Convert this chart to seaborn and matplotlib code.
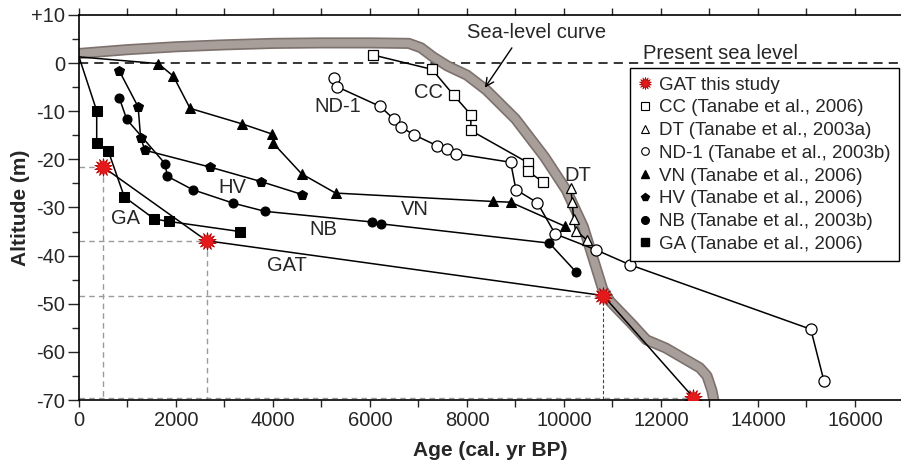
import matplotlib
matplotlib.use('Agg')
import matplotlib.pyplot as plt
import seaborn as sns
from matplotlib.lines import Line2D
from matplotlib.ticker import MultipleLocator

# Sea-level curve (age cal. yr BP, altitude m)
sea_age = [0, 1000, 2000, 3000, 4000, 5000, 6000, 6800, 7050, 7300, 7600, 8000, 8400,
           9000, 9600, 10050, 10400, 10600, 10800, 10950, 11400, 11700, 12100, 12800,
           12950, 13050, 13100]
sea_alt = [2.0, 2.8, 3.4, 3.8, 4.1, 4.2, 4.2, 4.1, 3.2, 1.3, -0.6, -2.5, -5.6,
           -11.6, -19.5, -26.4, -34.0, -40.5, -47.0, -49.5, -54.2, -57.5, -59.2, -63.3,
           -65.0, -68.0, -70.5]

gat_age = [500, 2630, 10810, 12670]
gat_alt = [-21.6, -36.9, -48.3, -69.5]

cc_age = [6060, 7280, 7730, 8080, 8080, 9260, 9260, 9570]
cc_alt = [1.7, -1.3, -6.7, -10.7, -14.0, -20.7, -22.5, -24.7]

dt_age = [10140, 10170, 10200, 10240, 10470]
dt_alt = [-25.9, -28.9, -32.3, -34.8, -36.7]

nd_age = [5260, 5320, 6210, 6500, 6640, 6910, 7390, 7580, 7770, 8900, 9010, 9450,
          9820, 10660, 11360, 15090, 15360]
nd_alt = [-3.0, -4.9, -9.0, -11.7, -13.3, -14.9, -17.2, -17.9, -18.8, -20.6, -26.3,
          -29.0, -35.5, -38.8, -41.9, -55.3, -66.0]

vn_age = [0, 1635, 1945, 2290, 3355, 3970, 4010, 4590, 5290, 8540, 8900, 10020]
vn_alt = [1.3, -0.1, -2.7, -9.4, -12.6, -14.7, -16.7, -23.0, -27.0, -28.75, -28.9, -33.9]

hv_age = [830, 1220, 1270, 1360, 2700, 3750, 4600]
hv_alt = [-1.6, -9.1, -15.5, -18.1, -21.6, -24.6, -27.3]

nb_age = [830, 985, 1775, 1820, 2345, 3180, 3835, 6035, 6230, 9700, 10240]
nb_alt = [-7.2, -11.7, -20.9, -23.5, -26.3, -29.1, -30.8, -33.0, -33.4, -37.4, -43.3]

ga_age = [0, 365, 365, 605, 935, 1555, 1855, 3320]
ga_alt = [1.3, -9.9, -16.6, -18.3, -27.8, -32.4, -32.9, -35.0]

legend_labels = ['GAT this study', 'CC (Tanabe et al., 2006)', 'DT (Tanabe et al., 2003a)',
                 'ND-1 (Tanabe et al., 2003b)', 'VN (Tanabe et al., 2006)',
                 'HV (Tanabe et al., 2006)', 'NB (Tanabe et al., 2003b)',
                 'GA (Tanabe et al., 2006)']

sns.set_style('ticks')
plt.rcParams['font.family'] = ['Liberation Sans', 'DejaVu Sans']
plt.rcParams['axes.unicode_minus'] = False

fig = plt.figure(figsize=(9.01, 4.65), dpi=100)
ax = fig.add_axes([79 / 901, 65 / 465, 822 / 901, 385 / 465])

RED = '#e3191b'

# sea level curve: dark rim + light fill
sns.lineplot(x=sea_age, y=sea_alt, sort=False, estimator=None, color='#7d716d',
             lw=8.0, solid_capstyle='butt', ax=ax, zorder=1)
sns.lineplot(x=sea_age, y=sea_alt, sort=False, estimator=None, color='#a89e9a',
             lw=5.6, solid_capstyle='butt', ax=ax, zorder=1)

# present sea level
ax.axhline(0, color='black', lw=1.1, dashes=(6, 4), zorder=0.5)

# guide lines for GAT samples
for i, (a, h) in enumerate(zip(gat_age, gat_alt)):
    ax.plot([0, a], [h, h], color='#9a9a9a', lw=1.0, dashes=(4, 3), zorder=0.4)
    if i < 2:
        ax.plot([a, a], [h, -70], color='#9a9a9a', lw=1.0, dashes=(4, 3), zorder=0.4)
    elif i == 2:
        ax.plot([a, a], [h, -70], color='#444444', lw=0.8, dashes=(3, 2), zorder=0.4)

common = dict(sort=False, estimator=None, color='black', lw=1.1, ax=ax, legend=False)

sns.lineplot(x=cc_age, y=cc_alt, marker='s', markersize=7.5, markerfacecolor='white',
             markeredgecolor='black', markeredgewidth=0.9, **common)
sns.lineplot(x=dt_age, y=dt_alt, marker='^', markersize=7.5, markerfacecolor='white',
             markeredgecolor='black', markeredgewidth=0.9, **common)
sns.lineplot(x=nd_age, y=nd_alt, marker='o', markersize=8, markerfacecolor='white',
             markeredgecolor='black', markeredgewidth=0.9, **common)
sns.lineplot(x=vn_age, y=vn_alt, marker='^', markersize=6.5, markerfacecolor='black',
             markeredgecolor='black', markevery=list(range(1, len(vn_age))), **common)
sns.lineplot(x=hv_age, y=hv_alt, marker='p', markersize=7, markerfacecolor='black',
             markeredgecolor='black', **common)
sns.lineplot(x=nb_age, y=nb_alt, marker='o', markersize=6.5, markerfacecolor='black',
             markeredgecolor='black', **common)
sns.lineplot(x=ga_age, y=ga_alt, marker='s', markersize=6.5, markerfacecolor='black',
             markeredgecolor='black', markevery=list(range(1, len(ga_age))), **common)
sns.lineplot(x=gat_age, y=gat_alt, marker=(14, 1, 0), markersize=13, markerfacecolor=RED,
             markeredgecolor='#b00000', markeredgewidth=0.6, **common)
ax.plot(gat_age, gat_alt, ls='none', marker='o', ms=7.5, mfc=RED, mec=RED, zorder=5)

# labels
txt = dict(fontsize=14.5, ha='center', va='center')
ax.text(5340, -9.0, 'ND-1', **txt)
ax.text(7200, -6.0, 'CC', **txt)
ax.text(10280, -23.3, 'DT', **txt)
ax.text(3160, -25.8, 'HV', **txt)
ax.text(6930, -30.5, 'VN', **txt)
ax.text(5030, -34.6, 'NB', **txt)
ax.text(950, -32.3, 'GA', **txt)
ax.text(4290, -42.0, 'GAT', **txt)
ax.text(11630, 2.1, 'Present sea level', fontsize=14.5, ha='left', va='center')
ax.annotate('Sea-level curve', xy=(8370, -5.1), xytext=(8000, 6.3), fontsize=14.5,
            ha='left', va='center',
            arrowprops=dict(arrowstyle='->', color='black', lw=1.0,
                            relpos=(0.35, 0.0), shrinkA=2, shrinkB=0))

handles = [
    Line2D([], [], ls='none', marker=(14, 1, 0), ms=9, mfc=RED, mec='#b00000', mew=0.5),
    Line2D([], [], ls='none', marker='s', ms=5.5, mfc='white', mec='black', mew=0.8),
    Line2D([], [], ls='none', marker='^', ms=5.5, mfc='white', mec='black', mew=0.8),
    Line2D([], [], ls='none', marker='o', ms=5.5, mfc='white', mec='black', mew=0.8),
    Line2D([], [], ls='none', marker='^', ms=5.5, mfc='black', mec='black'),
    Line2D([], [], ls='none', marker='p', ms=6, mfc='black', mec='black'),
    Line2D([], [], ls='none', marker='o', ms=5.5, mfc='black', mec='black'),
    Line2D([], [], ls='none', marker='s', ms=5.5, mfc='black', mec='black'),
]
leg = ax.legend(handles, legend_labels, loc='upper right', bbox_to_anchor=(0.997, 0.862),
                borderaxespad=0, fontsize=13.5, frameon=True, fancybox=False,
                framealpha=1, edgecolor='black', handlelength=0.7, handletextpad=0.35,
                labelspacing=0.3, borderpad=0.45)
leg.get_frame().set_linewidth(1.0)

ax.set_xlim(0, 16950)
ax.set_ylim(-70, 10)
ax.xaxis.set_major_locator(MultipleLocator(2000))
ax.xaxis.set_minor_locator(MultipleLocator(1000))
yt = list(range(-70, 11, 10))
ax.set_yticks(yt, ['+10' if v > 0 else str(v) for v in yt])
ax.yaxis.set_minor_locator(MultipleLocator(5))

ax.tick_params(axis='x', which='both', direction='out', top=True, length=5, width=1,
               labelsize=14.5, pad=3)
ax.tick_params(axis='y', which='major', direction='out', length=8, width=1,
               labelsize=14.5, pad=2)
ax.tick_params(axis='y', which='minor', direction='out', length=5, width=1)

for s in ['left', 'bottom', 'top']:
    ax.spines[s].set_linewidth(1.2)
    ax.spines[s].set_color('black')
ax.spines['right'].set_visible(False)

ax.set_xlabel('Age (cal. yr BP)', fontsize=15, fontweight='bold', labelpad=8)
ax.set_ylabel('Altitude (m)', fontsize=15, fontweight='bold', labelpad=0.5)

fig.savefig('out.png', dpi=100)
